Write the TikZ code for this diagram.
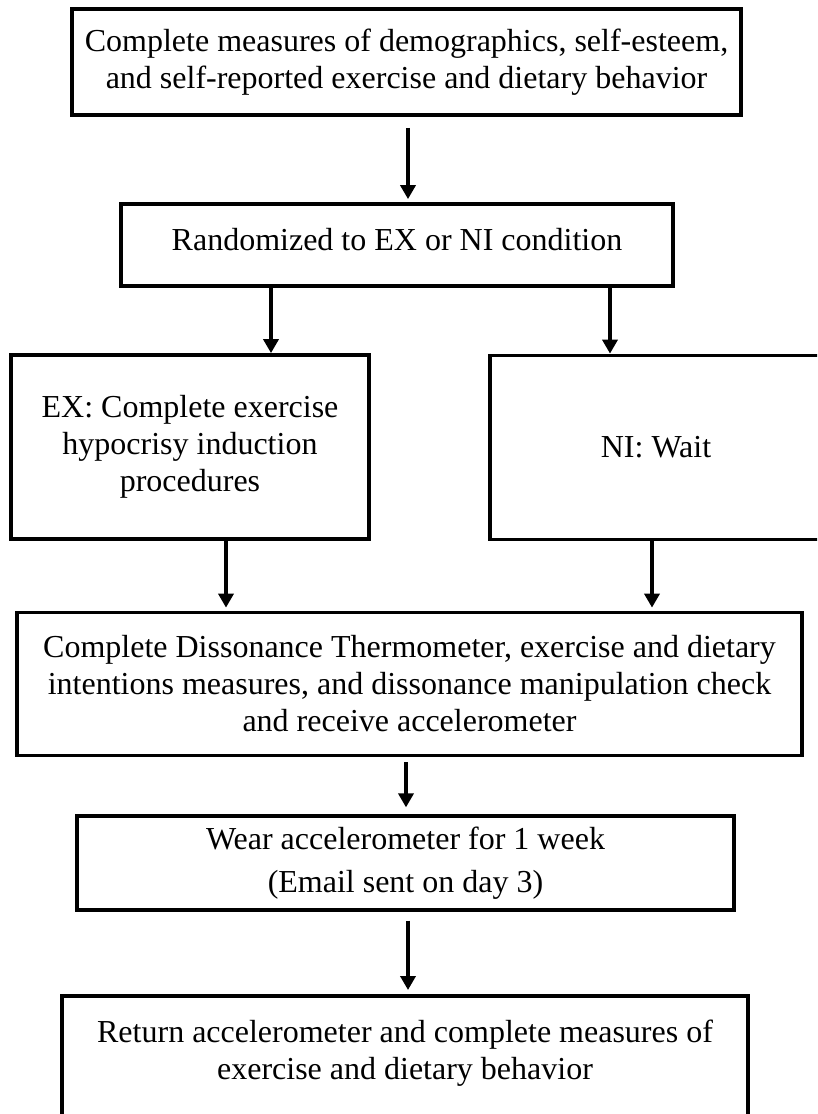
\documentclass[tikz,border=0pt]{standalone}
\usepackage{fontspec}
\setmainfont{Liberation Serif}
\usetikzlibrary{arrows.meta}

\begin{document}
\begin{tikzpicture}[x=1pt,y=-1pt,
  box/.style={draw, line width=3.75pt, align=center, font=\fontsize{32}{37}\selectfont},
  arr/.style={line width=3.5pt, -{Triangle[length=14pt,width=15pt]}}]
  \clip (0,0) rectangle (817,1114);
  \fill[white] (0,0) rectangle (817,1114);

  \node[box, minimum width=669pt, minimum height=106pt] (measures) at (406.5,62)
    {Complete measures of demographics, self-esteem,\\ and self-reported exercise and dietary behavior};
  \node[box, minimum width=552pt, minimum height=82pt, text depth=11pt] (rand) at (397,245)
    {Randomized to EX or NI condition};
  \node[box, minimum width=358pt, minimum height=184pt] (ex) at (190,447)
    {EX: Complete exercise\\ hypocrisy induction\\ procedures};
  \node[box, minimum width=332pt, minimum height=184pt] (ni) at (656,447.5) {NI: Wait};
  \node[box, minimum width=785pt, minimum height=143pt] (checks) at (409.5,684)
    {Complete Dissonance Thermometer, exercise and dietary\\ intentions measures, and dissonance manipulation check\\ and receive accelerometer};
  \node[box, minimum width=657pt, minimum height=93.5pt] (wear) at (405.5,863)
    {Wear accelerometer for 1 week\\[6pt] (Email sent on day 3)};
  \node[box, minimum width=685.5pt, inner ysep=24pt, anchor=north] (ret) at (405,994)
    {\parbox[t][140pt][t]{640pt}{\centering Return accelerometer and complete measures of\\ exercise and dietary behavior}};

  \draw[arr, shorten <=11pt, shorten >=3pt] (measures.south -| 408,0) -- (rand.north -| 408,0);
  \draw[arr] (rand.south -| 271,0) -- (ex.north -| 271,0);
  \draw[arr] (rand.south -| 610,0) -- (ni.north -| 610,0);
  \draw[arr, shorten >=3pt] (ex.south -| 226,0) -- (checks.north -| 226,0);
  \draw[arr, shorten >=3pt] (ni.south -| 652,0) -- (checks.north -| 652,0);
  \draw[arr, shorten <=5pt, shorten >=7pt] (checks.south -| 406,0) -- (wear.north -| 406,0);
  \draw[arr, shorten <=9pt, shorten >=4pt] (wear.south -| 408,0) -- (ret.north -| 408,0);

\end{tikzpicture}
\end{document}
